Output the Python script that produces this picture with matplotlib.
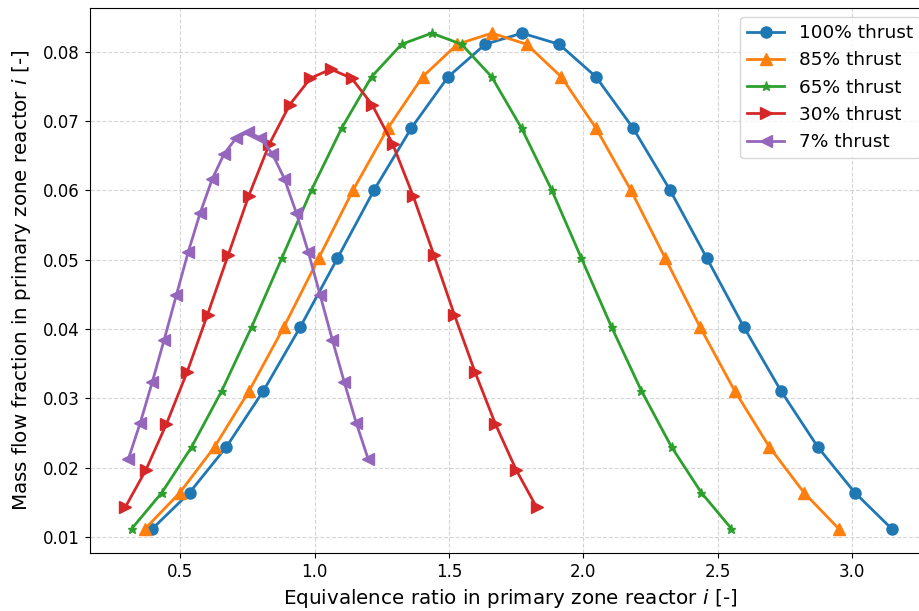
import matplotlib
matplotlib.use("Agg")
import matplotlib.pyplot as plt

# Equivalence ratio grids for each thrust setting
phi_100 = [0.397, 0.535, 0.672, 0.810, 0.947, 1.085, 1.222, 1.360, 1.497, 1.635, 1.772,
           1.910, 2.047, 2.185, 2.322, 2.460, 2.597, 2.735, 2.872, 3.010, 3.147]
phi_85 = [0.370, 0.499, 0.628, 0.757, 0.886, 1.015, 1.144, 1.273, 1.402, 1.531, 1.660,
          1.789, 1.918, 2.047, 2.176, 2.305, 2.434, 2.563, 2.692, 2.821, 2.950]
phi_65 = [0.320, 0.432, 0.543, 0.655, 0.766, 0.878, 0.989, 1.101, 1.212, 1.324, 1.436,
          1.547, 1.659, 1.770, 1.882, 1.993, 2.105, 2.216, 2.328, 2.439, 2.551]
phi_30 = [0.296, 0.373, 0.449, 0.526, 0.602, 0.679, 0.755, 0.832, 0.908, 0.985, 1.061,
          1.138, 1.214, 1.291, 1.367, 1.444, 1.520, 1.597, 1.673, 1.750, 1.826]
phi_7 = [0.307, 0.352, 0.396, 0.441, 0.486, 0.530, 0.575, 0.620, 0.664, 0.709, 0.754,
         0.798, 0.843, 0.888, 0.932, 0.977, 1.021, 1.066, 1.111, 1.155, 1.200]

# Mass flow fractions per reactor
mf_100 = [0.0112, 0.0164, 0.0230, 0.0311, 0.0403, 0.0502, 0.0601, 0.0690, 0.0764, 0.0811, 0.0827,
          0.0811, 0.0764, 0.0690, 0.0601, 0.0502, 0.0403, 0.0311, 0.0230, 0.0164, 0.0112]
mf_85 = [0.0112, 0.0164, 0.0230, 0.0311, 0.0403, 0.0502, 0.0601, 0.0690, 0.0764, 0.0811, 0.0827,
         0.0811, 0.0764, 0.0690, 0.0601, 0.0502, 0.0403, 0.0311, 0.0230, 0.0164, 0.0112]
mf_65 = [0.0112, 0.0164, 0.0230, 0.0311, 0.0403, 0.0502, 0.0601, 0.0690, 0.0764, 0.0811, 0.0827,
         0.0811, 0.0764, 0.0690, 0.0601, 0.0502, 0.0403, 0.0311, 0.0230, 0.0164, 0.0112]
mf_30 = [0.0143, 0.0197, 0.0263, 0.0338, 0.0421, 0.0507, 0.0592, 0.0667, 0.0724, 0.0762, 0.0775,
         0.0762, 0.0724, 0.0667, 0.0592, 0.0507, 0.0421, 0.0338, 0.0263, 0.0197, 0.0143]
mf_7 = [0.0212, 0.0265, 0.0323, 0.0385, 0.0449, 0.0511, 0.0568, 0.0617, 0.0653, 0.0676, 0.0684,
        0.0676, 0.0653, 0.0617, 0.0568, 0.0511, 0.0449, 0.0385, 0.0323, 0.0265, 0.0212]

labels = ["100% thrust", "85% thrust", "65% thrust", "30% thrust", "7% thrust"]

fig = plt.figure(figsize=(9.19, 6.11), dpi=100)
# the plotting area runs slightly past the right edge of the canvas
ax = fig.add_axes([0.0974, 0.0944, 0.9144, 0.8933])

series = [
    (phi_100, mf_100, "o", "#1f77b4", 8),
    (phi_85, mf_85, "^", "#ff7f0e", 8),
    (phi_65, mf_65, "*", "#2ca02c", 6.5),
    (phi_30, mf_30, ">", "#d62728", 8),
    (phi_7, mf_7, "<", "#9467bd", 8),
]
for (x, y, m, c, ms), lab in zip(series, labels):
    ax.plot(x, y, marker=m, color=c, lw=2, ms=ms, label=lab)

ax.set_xlim(0.163, 3.289)
ax.set_ylim(0.00765, 0.0864)
ax.set_xticks([0.5, 1.0, 1.5, 2.0, 2.5, 3.0])
ax.set_yticks([0.01, 0.02, 0.03, 0.04, 0.05, 0.06, 0.07, 0.08])
ax.tick_params(labelsize=12)
ax.grid(True, linestyle="--", color="#c8c8c8", alpha=0.75)
ax.set_xlabel("Equivalence ratio in primary zone reactor $i$ [-]", fontsize=14.3, labelpad=4)
ax.set_ylabel("Mass flow fraction in primary zone reactor $i$ [-]", fontsize=14.3, labelpad=7)
ax.legend(loc="upper right", fontsize=13.3)

fig.savefig("out.png", dpi=100)
